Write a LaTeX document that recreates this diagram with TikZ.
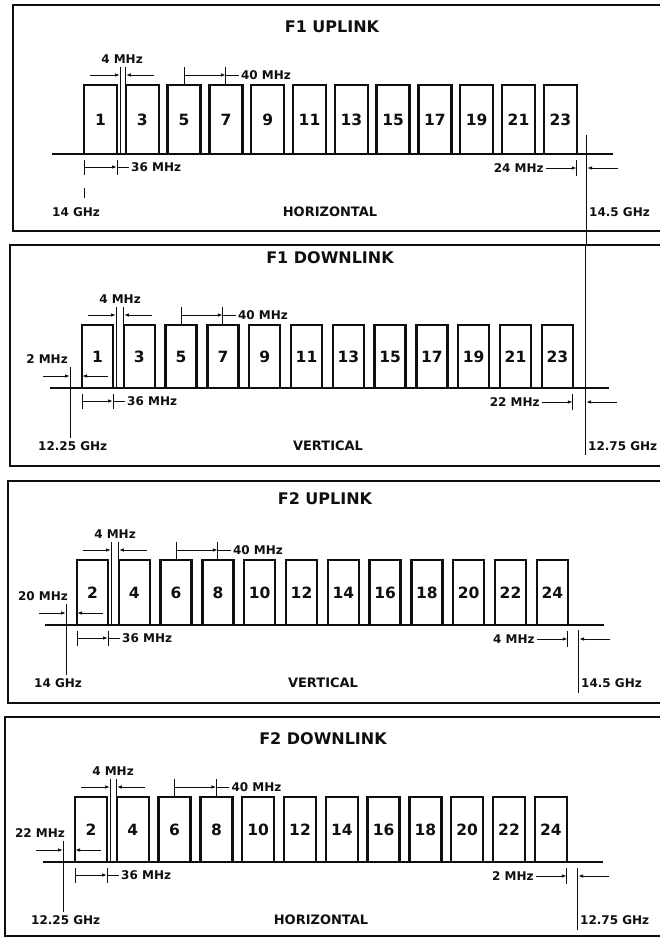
\documentclass[tikz,border=0pt]{standalone}
\usepackage{fontspec}
\setmainfont{DejaVu Sans}
\usetikzlibrary{arrows.meta,positioning}
\definecolor{InkBlack}{RGB}{15,15,15}

\tikzset{
  frame/.style={InkBlack,line width=1.6pt},
  chanbox/.style={draw=InkBlack,line width=2.4pt},
  axisline/.style={InkBlack,line width=1.6pt},
  dimline/.style={InkBlack,line width=1pt},
  dimarrow/.style={dimline,-{Latex[length=5pt,width=3.5pt]}},
  small/.style={font=\fontsize{12}{14}\selectfont\bfseries,text=InkBlack,inner sep=0pt},
  pollab/.style={small,font=\fontsize{13}{15}\selectfont\bfseries},
  chnum/.style={font=\fontsize{15.5}{18}\selectfont\bfseries,text=InkBlack,inner sep=0pt},
  heading/.style={font=\fontsize{16}{19}\selectfont\bfseries,text=InkBlack,inner sep=0pt}
}

\begin{document}
\begin{tikzpicture}[x=1pt,y=-1pt]
  \useasboundingbox (0,0) rectangle (660,938);
  \clip (0,0) rectangle (660,938);
  % one band plan per panel
  \foreach \n/\L/\T/\B/\ty/\Y/\hh/\xo/\w/\first/\ttl/\pol/\xl/\lfreq/\xm/\mt/\mb/\rgap/\rfreq in {
    1/13/5/231/27/154/69/84/33/1/F1 UPLINK/HORIZONTAL/84/14 GHz/586/135/245/24 MHz/14.5 GHz,
    2/10/245/466/258/388/63/82/31/1/F1 DOWNLINK/VERTICAL/70/12.25 GHz/585/245/455/22 MHz/12.75 GHz,
    3/8/481/703/499/625/65/77/31/2/F2 UPLINK/VERTICAL/66/14 GHz/578/630/693/4 MHz/14.5 GHz,
    4/5/717/936/739/862/65/75/32/2/F2 DOWNLINK/HORIZONTAL/63/12.25 GHz/577/868/930/2 MHz/12.75 GHz}{
    \pgfmathsetmacro\ct{\Y-\hh}
    \pgfmathsetmacro\xr{\xo+11*41.8+\w}
    \draw[frame] (663,\T) -- (\L,\T) -- (\L,\B) -- (663,\B);
    \node[heading] (title\n) at (\xo+248,\ty) {\ttl};
    \draw[axisline] (\xo-32,\Y) -- (\xr+36,\Y);
    \foreach \i in {0,...,11}{
      \pgfmathtruncatemacro\num{2*\i+\first}
      \draw[chanbox] (\xo+41.8*\i,\Y) rectangle (\xo+41.8*\i+\w,\ct);
      \node[chnum] (ch\n-\num) at (\xo+41.8*\i+\w/2,\Y-\hh/2) {\num};
    }
    % guard band between first two channels
    \pgfmathsetmacro\ga{\xo+\w+3}
    \pgfmathsetmacro\gb{\xo+41.8}
    \draw[dimline] (\ga,\ct-18) -- (\ga,\Y);
    \draw[dimline] (\gb,\ct-18) -- (\gb,\ct);
    \draw[dimarrow] (\xo+6,\ct-10) -- (\ga,\ct-10);
    \draw[dimarrow] (\gb+28,\ct-10) -- (\gb,\ct-10);
    \node[small] (guard\n) at (\xo+38,\ct-26) {4 MHz};
    % channel spacing
    \pgfmathsetmacro\ca{\xo+2*41.8+\w/2}
    \pgfmathsetmacro\cb{\xo+3*41.8+\w/2}
    \draw[dimline] (\ca,\ct-18) -- (\ca,\ct);
    \draw[dimline] (\cb,\ct-18) -- (\cb,\ct);
    \draw[dimarrow] (\ca,\ct-10) -- (\cb,\ct-10);
    \draw[dimline] (\cb,\ct-10) -- (\cb+13,\ct-10);
    \node[small,anchor=west] (pitch\n) at (\cb+15,\ct-10) {40 MHz};
    % channel width
    \draw[dimline] (\xo,\Y+6) -- (\xo,\Y+21);
    \draw[dimline] (\xo+\w,\Y+6) -- (\xo+\w,\Y+21);
    \draw[dimarrow] (\xo,\Y+13) -- (\xo+\w,\Y+13);
    \draw[dimline] (\xo+\w,\Y+13) -- (\xo+\w+12,\Y+13);
    \node[small,anchor=west] (width\n) at (\xo+\w+14,\Y+13) {36 MHz};
    % band edges
    \node[small,anchor=west] (lfreq\n) at (\xl-32,\Y+58) {\lfreq};
    \node[pollab] (pol\n) at (\xo+246,\Y+58) {\pol};
    \draw[dimline] (\xr,\Y+6) -- (\xr,\Y+22);
    \draw[dimarrow] (\xr-31,\Y+14) -- (\xr,\Y+14);
    \node[small,anchor=east] (rgap\n) at (\xr-33,\Y+14) {\rgap};
    \draw[dimline] (\xm,\mt) -- (\xm,\mb);
    \draw[dimarrow] (\xm+32,\Y+14) -- (\xm+1,\Y+14);
    \node[small,anchor=west] (rfreq\n) at (\xm+3,\Y+58) {\rfreq};
  }
  % lower band edge of the F1 uplink
  \draw[dimline] (84,188) -- (84,198);
  % lower guard bands
  \foreach \n/\Y/\xo/\xl/\lgap in {2/388/82/70/2 MHz, 3/625/77/66/20 MHz, 4/862/75/63/22 MHz}{
    \draw[dimline] (\xl,\Y-21) -- (\xl,\Y+50);
    \draw[dimarrow] (\xl-27,\Y-12) -- (\xl,\Y-12);
    \draw[dimarrow] (\xo+26,\Y-12) -- (\xo,\Y-12);
    \node[small] (lgap\n) at (\xl-23,\Y-29) {\lgap};
  }
\end{tikzpicture}
\end{document}
